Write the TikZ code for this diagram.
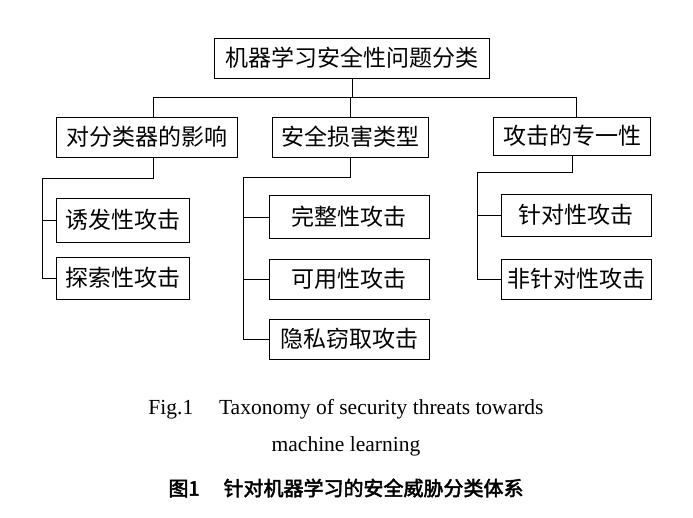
\documentclass[tikz,border=0pt]{standalone}
\usepackage{fontspec}
\setmainfont{Liberation Serif}
\newfontfamily\cjk{Noto Sans CJK SC}[AutoFakeBold=2.5]
\begin{document}
\begin{tikzpicture}[x=1pt,y=-1pt,
  bx/.style={draw,line width=1pt,inner sep=0pt,font=\cjk\fontsize{23}{25}\selectfont},
  ln/.style={line width=1pt}]
\useasboundingbox (0,0) rectangle (693,517);
\node[bx,minimum width=275,minimum height=40] (root) at (352,58) {机器学习安全性问题分类};
\node[bx,minimum width=181,minimum height=40] (c1) at (147,137) {对分类器的影响};
\node[bx,minimum width=156,minimum height=40] (c2) at (350,137) {安全损害类型};
\node[bx,minimum width=157,minimum height=38] (c3) at (572,136) {攻击的专一性};
\node[bx,minimum width=133,minimum height=44] (l11) at (123,220) {诱发性攻击};
\node[bx,minimum width=133,minimum height=42] (l12) at (123,278) {探索性攻击};
\node[bx,minimum width=160,minimum height=43] (l21) at (349,217) {完整性攻击};
\node[bx,minimum width=160,minimum height=40] (l22) at (349,279) {可用性攻击};
\node[bx,minimum width=160,minimum height=40] (l23) at (349,339) {隐私窃取攻击};
\node[bx,minimum width=150,minimum height=42] (l31) at (576,215) {针对性攻击};
\node[bx,minimum width=150,minimum height=40] (l32) at (576,279) {非针对性攻击};
\coordinate (h) at (0,97);
\draw[ln] (root.south) -- (root.south |- h);
\draw[ln] (c1.north -| 153,0) -- (153,97) -- (576,97) -- (576,0 |- c3.north);
\draw[ln] (c2.north) -- (c2.north |- h);
\draw[ln] (153,0 |- c1.south) -- (153,178) -- (42,178) -- (42,0 |- l12.west) -- (l12.west);
\draw[ln] (42,0 |- l11.west) -- (l11.west);
\draw[ln] (c2.south) -- (c2.south |- 0,177) -- (243,177) -- (243,0 |- l23.west) -- (l23.west);
\draw[ln] (243,0 |- l21.west) -- (l21.west);
\draw[ln] (243,0 |- l22.west) -- (l22.west);
\draw[ln] (c3.south) -- (c3.south |- 0,172) -- (477,172) -- (477,0 |- l32.west) -- (l32.west);
\draw[ln] (477,0 |- l31.west) -- (l31.west);
\node[font=\fontsize{21.5}{23}\selectfont] (cap1) at (346,409) {Fig.1\hspace{1.2em}Taxonomy of security threats towards};
\node[font=\fontsize{21.5}{23}\selectfont] (cap2) at (346,446) {machine learning};
\node[font=\cjk\bfseries\fontsize{20}{22}\selectfont] (cap3) at (346,488) {图1\hspace{1.2em}针对机器学习的安全威胁分类体系};
\end{tikzpicture}
\end{document}
